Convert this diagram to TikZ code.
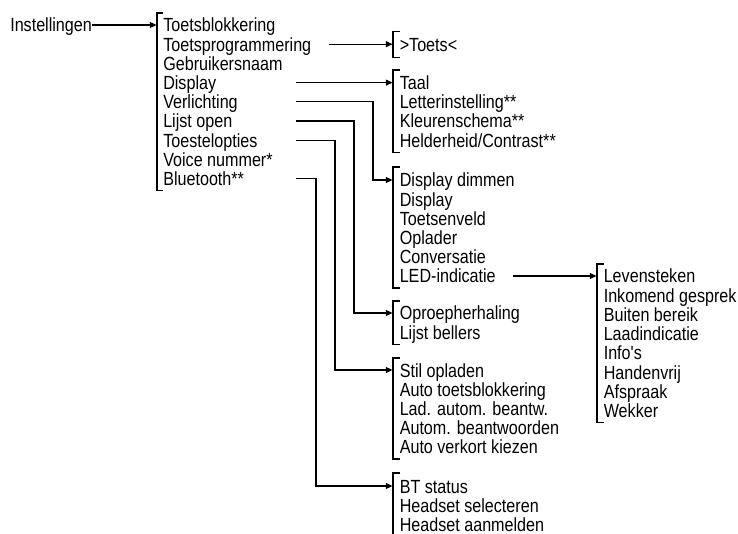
\documentclass[tikz,border=0pt]{standalone}
\usepackage{fontspec}
\usepackage{graphicx}
\setmainfont{Liberation Sans}
\usetikzlibrary{arrows.meta}
\newcommand\stx[1]{\scalebox{1}[1.18]{#1}}
\begin{document}
\begin{tikzpicture}[x=0.75pt,y=-0.75pt,
  item/.style={anchor=base west,inner sep=0pt,font=\fontsize{12.1}{12}\selectfont},
  conn/.style={line width=0.8pt,-{Triangle[length=5pt,width=4.5pt]}},
  brk/.style={line width=0.8pt}]
\useasboundingbox (0,0) rectangle (738,534);
\def\rowh{19.2}
% root
\node[item] (root) at (10,32) {\stx{Instellingen}};
\coordinate (rootout) at (92,25);
\coordinate (mainin) at (156.5,25);
\draw[conn] (rootout) -- (mainin);
% main list
\draw[brk] (163,13) -- (157,13) -- (157,190.6) -- (163,190.6);
\foreach \t [count=\i from 0] in {Toetsblokkering,Toetsprogrammering,Gebruikersnaam,Display,Verlichting,Lijst open,Toestelopties,Voice nummer*,Bluetooth**}
  \node[item] (m\i) at (163,{25+\rowh*\i+7}) {\stx{\t}};
% sub list: Toets
\draw[brk] (399.5,31.2) -- (393,31.2) -- (393,57.2) -- (399.5,57.2);
\node[item] (s1a) at (399.5,{44.2+7}) {\stx{>Toets<}};
% sub list: Display
\draw[brk] (399.5,70) -- (393,70) -- (393,152.6) -- (399.5,152.6);
\foreach \t [count=\i from 0] in {Taal,Letterinstelling**,Kleurenschema**,Helderheid/Contrast**}
  \node[item] (s2\i) at (399.5,{82.6+\rowh*\i+7}) {\stx{\t}};
% sub list: Verlichting
\draw[brk] (399.5,167) -- (393,167) -- (393,288) -- (399.5,288);
\foreach \t [count=\i from 0] in {Display dimmen,Display,Toetsenveld,Oplader,Conversatie,LED-indicatie}
  \node[item] (s3\i) at (399.5,{180+\rowh*\i+7}) {\stx{\t}};
% sub list: Lijst open
\draw[brk] (399.5,301) -- (393,301) -- (393,344.2) -- (399.5,344.2);
\foreach \t [count=\i from 0] in {Oproepherhaling,Lijst bellers}
  \node[item] (s4\i) at (399.5,{313+\rowh*\i+7}) {\stx{\t}};
% sub list: Toestelopties
\draw[brk] (399.5,358) -- (393,358) -- (393,459) -- (399.5,459);
\foreach \t [count=\i from 0] in {Stil opladen,Auto toetsblokkering,Lad. autom. beantw.,Autom. beantwoorden,Auto verkort kiezen}
  \node[item] (s5\i) at (399.5,{370+\rowh*\i+7}) {\stx{\t}};
% sub list: Bluetooth
\draw[brk] (399.5,473) -- (393,473) -- (393,536);
\foreach \t [count=\i from 0] in {BT status,Headset selecteren,Headset aanmelden}
  \node[item] (s6\i) at (399.5,{486+\rowh*\i+7}) {\stx{\t}};
% sub-sub list: LED-indicatie
\draw[brk] (603.5,264) -- (597,264) -- (597,422.4) -- (603.5,422.4);
\foreach \t [count=\i from 0] in {Levensteken,Inkomend gesprek,Buiten bereik,Laadindicatie,Info\textquotesingle s,Handenvrij,Afspraak,Wekker}
  \node[item] (s7\i) at (603.5,{276+\rowh*\i+7}) {\stx{\t}};
% connectors
\coordinate (c1) at (329,44.2);   \coordinate (b1) at (392.5,44.2);
\coordinate (c2) at (296,82.6);   \coordinate (b2) at (392.5,82.6);
\coordinate (c3) at (296,101.8);  \coordinate (b3) at (392.5,180);
\coordinate (c4) at (296,121);    \coordinate (b4) at (392.5,313);
\coordinate (c5) at (296,140.2);  \coordinate (b5) at (392.5,370);
\coordinate (c6) at (296,178.6);  \coordinate (b6) at (392.5,486);
\coordinate (c7) at (513,276);    \coordinate (b7) at (596.5,276);
\draw[conn] (c1) -- (b1);
\draw[conn] (c2) -- (b2);
\draw[conn] (c3) -- (373,101.8) -- (373,180) -- (b3);
\draw[conn] (c4) -- (354,121) -- (354,313) -- (b4);
\draw[conn] (c5) -- (335,140.2) -- (335,370) -- (b5);
\draw[conn] (c6) -- (316,178.6) -- (316,486) -- (b6);
\draw[conn] (c7) -- (b7);
\end{tikzpicture}
\end{document}
